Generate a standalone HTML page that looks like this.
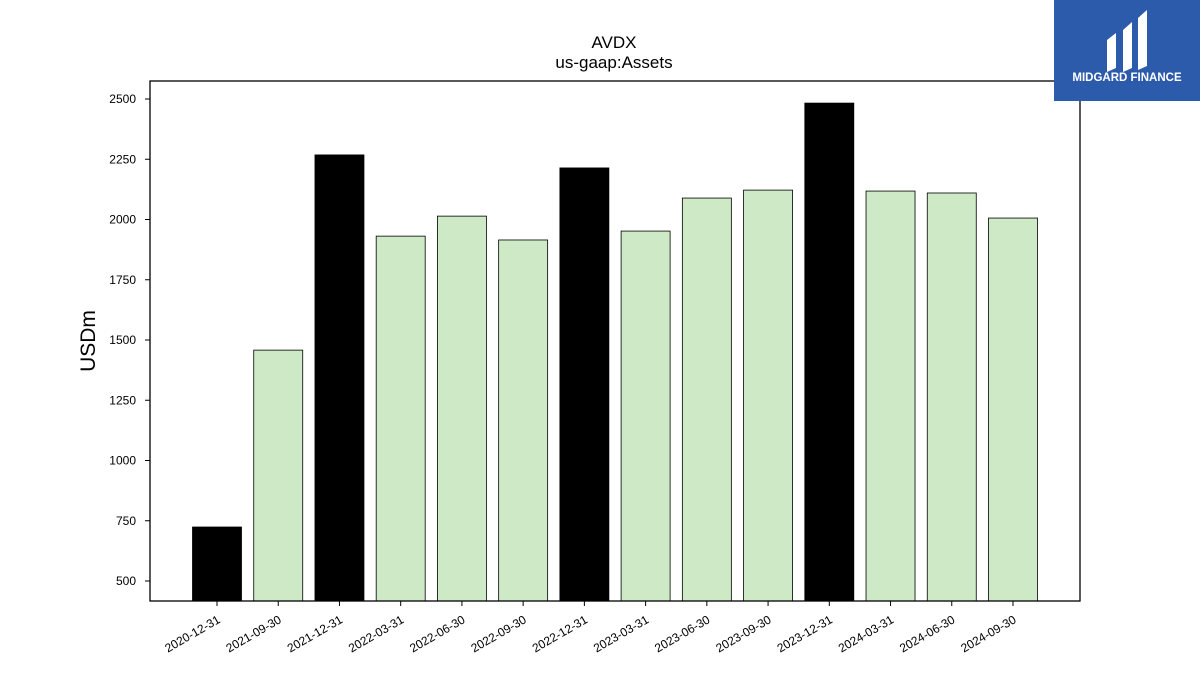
<!DOCTYPE html>
<html><head><meta charset="utf-8"><style>
body{margin:0;background:#fff;font-family:"Liberation Sans","DejaVu Sans",sans-serif}
#wrap{position:relative;width:1200px;height:675px;overflow:hidden}
</style></head><body>
<div id="wrap">
<svg id="chart" width="1200" height="675">
<text x="614" y="48" text-anchor="middle" font-size="17">AVDX</text>
<text x="614" y="68" text-anchor="middle" font-size="17">us-gaap:Assets</text>
<text transform="translate(95,341) rotate(-90)" text-anchor="middle" font-size="21">USDm</text>
<g id="bars"></g><g id="yt"></g><g id="xt"></g>
<rect x="150" y="81" width="930" height="520" fill="none" stroke="#000" stroke-width="1.3"/>
<g>
<rect x="1054" y="0" width="146" height="101" fill="#2d5bab"/>
<path d="M1107 40 L1116 33 L1116 68 L1107 72 Z M1123 30 L1132 22 L1132 68 L1123 72 Z M1138 18 L1147 10 L1147 66 L1138 70 Z" fill="#fff"/>
<text x="1127" y="81" text-anchor="middle" font-size="11.5" font-weight="bold" fill="#fff">MIDGARD FINANCE</text>
</g>
</svg>
</div>
<script>
const categories=["2020-12-31","2021-09-30","2021-12-31","2022-03-31","2022-06-30","2022-09-30","2022-12-31","2023-03-31","2023-06-30","2023-09-30","2023-12-31","2024-03-31","2024-06-30","2024-09-30"];
const values=[724,1458,2268,1931,2014,1915,2214,1952,2089,2122,2483,2118,2110,2006];
const isAnnual=[true,false,true,false,false,false,true,false,false,false,true,false,false,false];
const yTicks=[500,750,1000,1250,1500,1750,2000,2250,2500];
const NS="http://www.w3.org/2000/svg";
const y=v=>581-(v-500)*0.241;
const x=i=>217+i*61.23;
const base=601;
function mk(t,a,p){const e=document.createElementNS(NS,t);for(const k in a)e.setAttribute(k,a[k]);p.appendChild(e);return e;}
const bars=document.getElementById('bars'),yt=document.getElementById('yt'),xt=document.getElementById('xt');
values.forEach((v,i)=>{
 const r=mk('rect',{x:x(i)-24.5,y:y(v),width:49,height:base-y(v),fill:isAnnual[i]?'#000':'#cde9c6',stroke:'#000','stroke-width':0.8},bars);
 
 
 mk('line',{x1:x(i),x2:x(i),y1:601,y2:606,stroke:'#000'},xt);
 const t=mk('text',{x:x(i)+4,y:622,'font-size':12,'text-anchor':'end',transform:`rotate(-30 ${x(i)+4} 622)`},xt);
 t.textContent=categories[i];
 
 
});
yTicks.forEach(v=>{
 mk('line',{x1:145,x2:150,y1:y(v),y2:y(v),stroke:'#000'},yt);
 const t=mk('text',{x:136,y:y(v)+4,'font-size':12,'text-anchor':'end'},yt);
 t.textContent=v;
 
 
});
</script>
</body></html>
